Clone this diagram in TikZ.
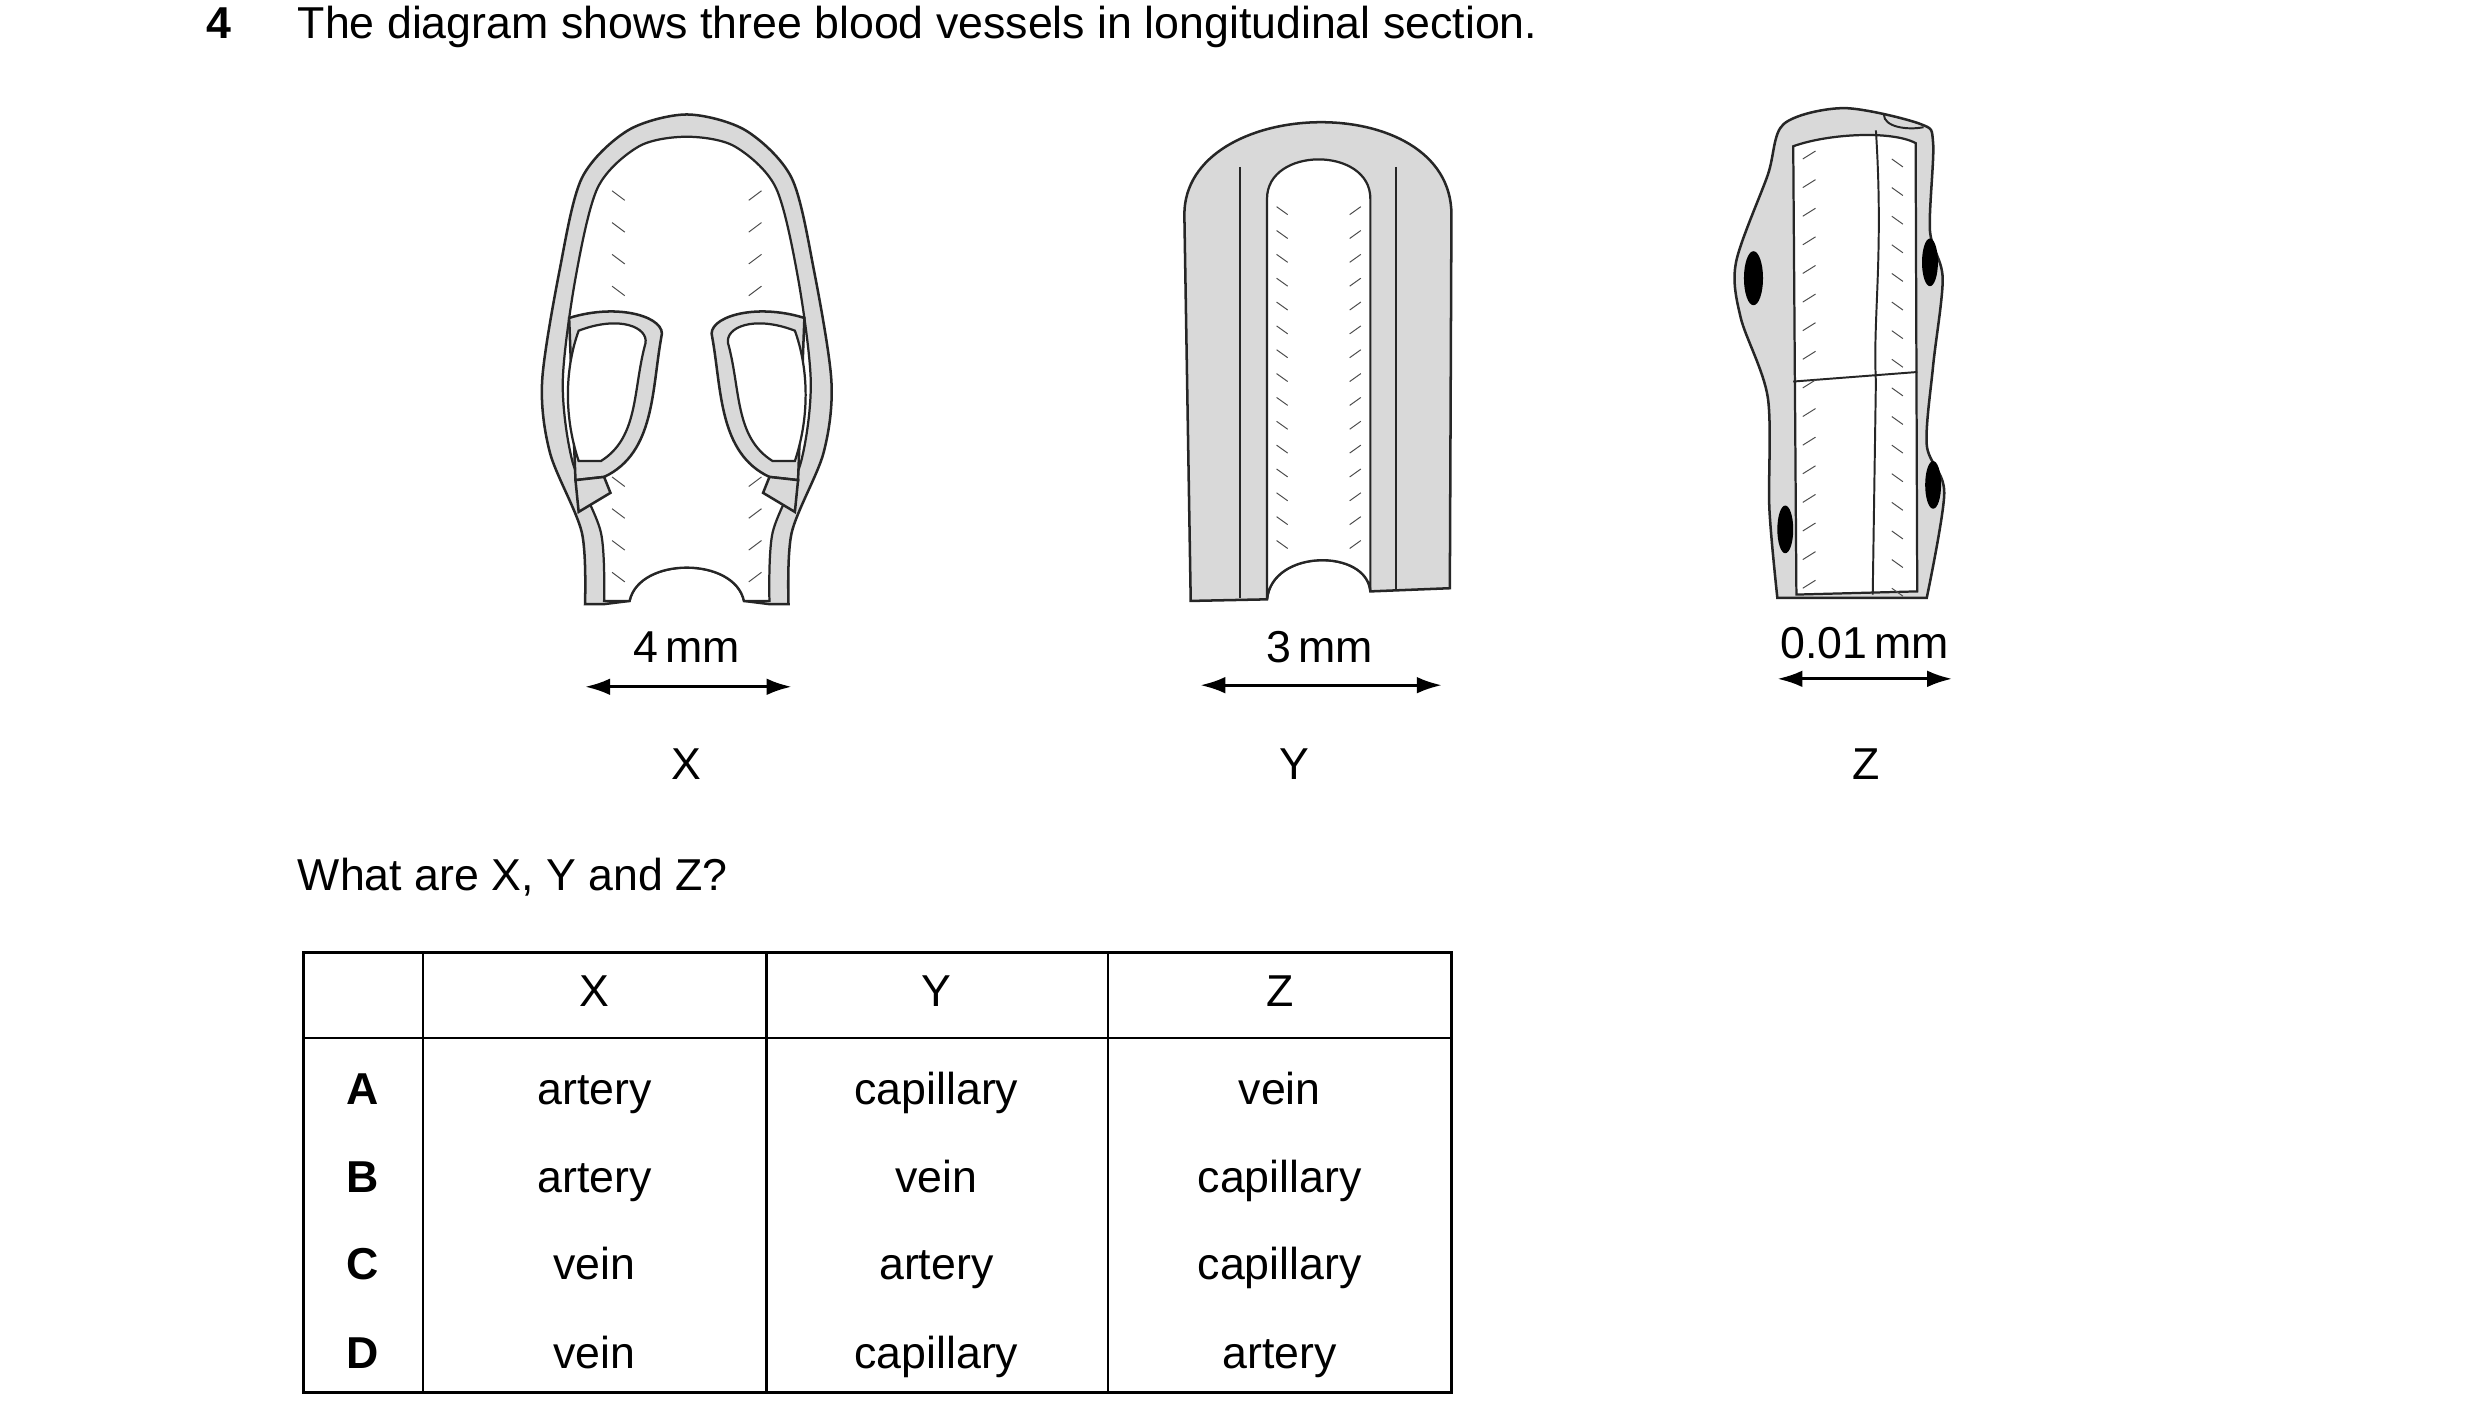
\documentclass[tikz,border=0pt]{standalone}
\usepackage{fontspec}
\setmainfont{Liberation Sans}
\usetikzlibrary{arrows.meta}
\begin{document}
\begin{tikzpicture}[x=0.02cm,y=-0.02cm,
  txt/.style={font=\fontsize{16}{19}\selectfont, inner sep=0, text height=11.5pt, text depth=3.5pt},
  wall/.style={draw=black!85, line width=0.9pt, fill=black!15},
  lum/.style={draw=black!85, line width=0.8pt, fill=white},
  hatch/.style={black!70, line width=0.35pt},
  dim/.style={line width=1.1pt, {Latex[length=9pt,width=6pt]}-{Latex[length=9pt,width=6pt]}}]
\useasboundingbox (0,0) rectangle (1560,897);
\node[txt,font=\fontsize{16}{19}\selectfont\bfseries] (n4) at (138,17) {4};
\node[txt,anchor=west] (title) at (187,17) {The diagram shows three blood vessels in longitudinal section.};
% X
\path[wall] plot[smooth] coordinates {(368,380)(366,335)(346,285)(341,240)(352,170)(366,112)(395,82)(432,72)(469,82)(498,112)(512,170)(523,240)(518,285)(498,335)(496,380)} -- (484,380) -- (468,378) .. controls (462,350) and (402,350) .. (396,378) -- (380,380) -- cycle;
\path[lum] plot[smooth] coordinates {(380,378)(378,335)(360,290)(354,240)(362,175)(376,118)(402,92)(432,86)(462,92)(488,118)(502,175)(510,240)(504,290)(486,335)(484,378)} -- (468,378) .. controls (462,350) and (402,350) .. (396,378) -- cycle;
\foreach \y in {120,140,...,360} {\draw[hatch] (385,\y) -- +(8,6); \draw[hatch] (479,\y) -- +(-8,6);}
% valves
\path[wall] (358,200) .. controls (390,190) and (420,200) .. (416,212) .. controls (410,245) and (412,285) .. (380,300) -- (362,302) -- cycle;
\path[lum] (364,208) .. controls (390,198) and (408,206) .. (406,216) .. controls (398,245) and (402,275) .. (378,290) -- (364,290) .. controls (354,260) and (356,230) .. cycle;
\path[wall] (506,200) .. controls (474,190) and (444,200) .. (448,212) .. controls (454,245) and (452,285) .. (484,300) -- (502,302) -- cycle;
\path[lum] (500,208) .. controls (474,198) and (456,206) .. (458,216) .. controls (466,245) and (462,275) .. (486,290) -- (500,290) .. controls (510,260) and (508,230) .. cycle;
\path[wall] (362,302) -- (380,300) -- (384,310) -- (364,322) -- cycle;
\path[wall] (502,302) -- (484,300) -- (480,310) -- (500,322) -- cycle;
% Y
\path[wall] (745,135) -- (749,378) -- (797,377) .. controls (800,345) and (860,345) .. (862,372) -- (912,370) -- (913,135) .. controls (913,55) and (745,60) .. cycle;
\draw[black!85, line width=0.7pt] (780,105) -- (780,376) (878,105) -- (878,371);
\path[lum] (797,377) -- (797,125) .. controls (797,92) and (862,92) .. (862,125) -- (862,372) .. controls (860,345) and (800,345) .. (797,377);
\foreach \y in {130,145,...,340} {\draw[hatch] (803,\y) -- +(7,5); \draw[hatch] (856,\y) -- +(-7,5);}
% Z
\path[wall] plot[smooth] coordinates {(1118,376)(1113,320)(1112,250)(1095,200)(1092,165)(1112,110)(1122,78)(1160,68)(1208,78)(1216,90)(1214,145)(1222,175)(1216,230)(1212,280)(1223,310)(1212,376)} -- cycle;
\path[lum] (1130,374) -- (1128,92) .. controls (1150,84) and (1190,82) .. (1205,90) -- (1206,372) -- cycle;
\draw[black!85,line width=0.7pt] (1180,82) .. controls (1185,160) and (1178,200) .. (1180,240) -- (1178,374);
\draw[black!85,line width=0.7pt] (1128,240) -- (1206,234);
\draw[black!85,line width=0.7pt] (1185,72) .. controls (1185,80) and (1200,82) .. (1210,80);
\foreach \y in {100,118,...,370} {\draw[hatch] (1134,\y) -- +(8,-5); \draw[hatch] (1190,\y) -- +(7,5);}
\fill (1103,175) ellipse (6 and 17);
\fill (1214,165) ellipse (5 and 15);
\fill (1123,333) ellipse (5 and 15);
\fill (1216,305) ellipse (5 and 15);
% dimensions
\coordinate (xa) at (368,432); \coordinate (xb) at (498,432);
\draw[dim] (xa) -- (xb);
\coordinate (ya) at (755,431); \coordinate (yb) at (907,431);
\draw[dim] (ya) -- (yb);
\coordinate (za) at (1118,427); \coordinate (zb) at (1228,427);
\draw[dim] (za) -- (zb);
\node[txt] (dx) at (432,410) {4\,mm};
\node[txt] (dy) at (830,410) {3\,mm};
\node[txt] (dz) at (1173,407) {0.01\,mm};
\node[txt] (lx) at (432,483) {X};
\node[txt] (ly) at (814,483) {Y};
\node[txt] (lz) at (1174,483) {Z};
\node[txt,anchor=west] (q) at (187,553) {What are X, Y and Z?};
% table
\draw[line width=0.9pt] (191,599) rectangle (913,876);
\draw[line width=0.9pt] (191,653) -- (913,653);
\foreach \x in {266,482,697} \draw[line width=0.9pt] (\x,599) -- (\x,876);
\node[txt] at (374,626) {X}; \node[txt] at (589,626) {Y}; \node[txt] at (805,626) {Z};
\foreach \l/\a/\b/\c/\y in {A/artery/capillary/vein/688, B/artery/vein/capillary/743, C/vein/artery/capillary/798, D/vein/capillary/artery/854} {
  \node[txt,font=\fontsize{16}{19}\selectfont\bfseries] at (228,\y) {\l};
  \node[txt] at (374,\y) {\a}; \node[txt] at (589,\y) {\b}; \node[txt] at (805,\y) {\c};}
\end{tikzpicture}
\end{document}
